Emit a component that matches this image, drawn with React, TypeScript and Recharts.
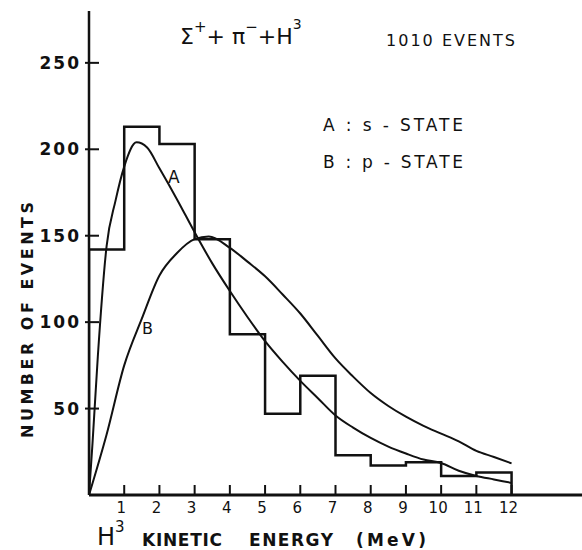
import { LineChart, Line, XAxis, YAxis, Customized } from 'recharts';

// histogram: counts per 1 MeV bin, 0-12 MeV
const binEdges = [0, 1, 2, 3, 4, 5, 6, 7, 8, 9, 10, 11, 12];
const binCounts = [142, 213, 203, 148, 93, 47, 69, 23, 17, 19, 11, 13];

// curve A (s-state)
const curveAx = [0, 0.1, 0.25, 0.5, 0.75, 1, 1.35, 1.65, 2, 2.5, 3, 3.5, 4, 4.5, 5, 5.5, 6, 6.5, 7, 7.5, 8, 8.5, 9, 9.5, 10, 10.5, 11, 11.5, 12];
const curveAy = [0, 30, 80, 144, 170, 190, 204, 201, 189, 171, 152, 134, 118, 103, 89, 77, 66, 56, 46, 39, 33, 28, 24, 20.5, 18.5, 14, 11, 9, 7];

// curve B (p-state)
const curveBx = [0, 0.5, 1, 1.5, 2, 2.5, 3, 3.4, 4, 4.5, 5, 5.5, 6, 6.5, 7, 7.5, 8, 8.5, 9, 9.5, 10, 10.5, 11, 11.5, 12];
const curveBy = [0, 35, 75, 102, 127, 140, 148, 149.5, 143, 135, 126.5, 116, 105, 92, 79, 68.5, 59, 51.5, 45.3, 40, 35.5, 31, 25.5, 22, 18.3];

const xTicks = [1, 2, 3, 4, 5, 6, 7, 8, 9, 10, 11, 12];
const yTicks = [50, 100, 150, 200, 250];

const histData = [{ x: binEdges[0], y: 0 }]
  .concat(binCounts.map((c, i) => ({ x: binEdges[i], y: c })))
  .concat([
    { x: binEdges[12], y: binCounts[11] },
    { x: binEdges[12], y: 0 },
  ]);
const curveA = curveAx.map((x, i) => ({ x, y: curveAy[i] }));
const curveB = curveBx.map((x, i) => ({ x, y: curveBy[i] }));

const font = 'DejaVu Sans, sans-serif';
const ink = '#111';

const XTick = (props: any) => {
  const { x, y, payload } = props;
  return (
    <g>
      <line x1={x} y1={y} x2={x} y2={y - 10} stroke={ink} strokeWidth={2} />
      <text x={x - 3} y={y + 18} textAnchor="middle" fontFamily={font} fontSize={15} fill={ink}>
        {payload.value}
      </text>
    </g>
  );
};

const YTick = (props: any) => {
  const { x, y, payload } = props;
  return (
    <g>
      <line x1={x - 4} y1={y} x2={x + 10} y2={y} stroke={ink} strokeWidth={2} />
      <text x={x - 8} y={y + 6} textAnchor="end" fontFamily={font} fontSize={17} fontWeight="bold" letterSpacing={2} fill={ink}>
        {payload.value}
      </text>
    </g>
  );
};

const Annotations = () => (
  <g fontFamily={font} fill={ink}>
    <text x={180} y={44} fontSize={22}>
      Σ<tspan dy={-12} fontSize={15}>+</tspan>
      <tspan dy={12}>+ π</tspan>
      <tspan dy={-12} fontSize={15}>−</tspan>
      <tspan dy={12}>+H</tspan>
      <tspan dy={-15} fontSize={14}>3</tspan>
    </text>
    <text x={386} y={46} fontSize={16} textLength={129} lengthAdjust="spacing">1010 EVENTS</text>
    <text x={323} y={131} fontSize={17} textLength={140} lengthAdjust="spacing">A : s - STATE</text>
    <text x={323} y={168} fontSize={17} textLength={140} lengthAdjust="spacing">B : p - STATE</text>
    <text x={168} y={183} fontSize={17}>A</text>
    <text x={142} y={334} fontSize={16}>B</text>
    <text
      x={0}
      y={0}
      transform="translate(33,320) rotate(-90)"
      textAnchor="middle"
      fontSize={16}
      fontWeight="bold"
      textLength={236}
      lengthAdjust="spacing"
    >
      NUMBER OF EVENTS
    </text>
    <text x={97} y={545} fontSize={24}>H</text>
    <text x={115} y={532} fontSize={15}>3</text>
    <text x={142} y={546} fontSize={17} fontWeight="bold" textLength={80} lengthAdjust="spacing">KINETIC</text>
    <text x={249} y={546} fontSize={17} fontWeight="bold" textLength={84} lengthAdjust="spacing">ENERGY</text>
    <text x={356} y={546} fontSize={17} fontWeight="bold" textLength={70} lengthAdjust="spacing">(MeV)</text>
  </g>
);

export default function App() {
  return (
    <div style={{ position: 'absolute', left: 0, top: 0, width: 582, height: 550, background: '#fff' }}>
      <LineChart width={582} height={550} margin={{ top: 11, right: 0, left: 0, bottom: 0 }}>
        <XAxis
          type="number"
          dataKey="x"
          domain={[0, 14]}
          ticks={xTicks}
          allowDataOverflow
          height={55}
          tickSize={0}
          tickMargin={0}
          tickLine={false}
          tick={<XTick />}
          axisLine={{ stroke: ink, strokeWidth: 3 }}
        />
        <YAxis
          type="number"
          dataKey="y"
          domain={[0, 280]}
          ticks={yTicks}
          allowDataOverflow
          width={89}
          tickSize={0}
          tickMargin={0}
          tickLine={false}
          tick={<YTick />}
          axisLine={{ stroke: ink, strokeWidth: 2.5 }}
        />
        <Line
          data={histData}
          dataKey="y"
          type="stepAfter"
          stroke={ink}
          strokeWidth={2.5}
          dot={false}
          isAnimationActive={false}
        />
        <Line
          data={curveA}
          dataKey="y"
          type="monotone"
          stroke={ink}
          strokeWidth={2}
          dot={false}
          isAnimationActive={false}
        />
        <Line
          data={curveB}
          dataKey="y"
          type="monotone"
          stroke={ink}
          strokeWidth={2}
          dot={false}
          isAnimationActive={false}
        />
        <Customized component={Annotations} />
      </LineChart>
    </div>
  );
}
